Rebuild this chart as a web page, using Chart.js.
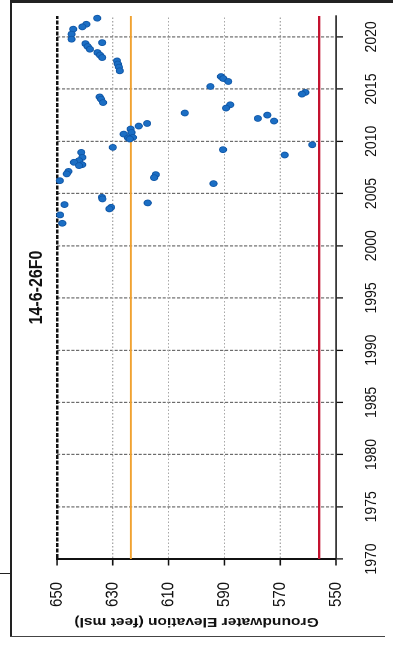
<!DOCTYPE html>
<html>
<head>
<meta charset="utf-8">
<script src="https://cdn.jsdelivr.net/npm/chart.js@4.4.1/dist/chart.umd.min.js"></script>
<style>
  html, body { margin: 0; padding: 0; background: #fff; overflow: hidden; }
  body { width: 393px; height: 645px; position: relative; }
  /* chart is laid out upright, then turned on its side like the scanned page */
  #wrap {
    position: absolute; left: 0; top: 0;
    width: 645px; height: 327px;
    transform-origin: 0 0;
    transform: translate(0, 645px) scale(1.2, 1) rotate(-90deg);
  }
  .rule { position: absolute; background: #222; }
</style>
</head>
<body>
<div id="wrap"><canvas id="chart"></canvas></div>
<div class="rule" style="left:10px;top:0;width:1.6px;height:637px"></div>
<div class="rule" style="left:11px;top:0;width:382px;height:2.5px"></div>
<div class="rule" style="left:10px;top:636px;width:375px;height:1.4px;background:#444"></div>
<div class="rule" style="left:0;top:573px;width:10px;height:1.4px"></div>
<script>
const wellName = '14-6-26F0';
const axisTitle = 'Groundwater Elevation (feet msl)';

const sampleYears = [
  2021.79, 2021.21, 2020.96, 2020.74, 2020.26, 2019.78, 2019.45, 2019.35,
  2019.08, 2018.82, 2018.50, 2018.26, 2018.02, 2017.70, 2017.40, 2017.10,
  2016.75, 2016.20, 2016.01, 2015.73, 2015.25, 2014.68, 2014.52, 2014.25,
  2014.03, 2013.71, 2013.50, 2013.18, 2012.71, 2012.51, 2012.19, 2011.94,
  2011.71, 2011.46, 2011.18, 2010.85, 2010.69, 2010.37, 2010.32, 2010.22,
  2009.67, 2009.42, 2009.20, 2008.94, 2008.69, 2008.46, 2008.15, 2007.99,
  2007.76, 2007.67, 2007.12, 2006.88, 2006.81, 2006.52, 2006.23, 2005.95,
  2004.64, 2004.48, 2004.10, 2003.94, 2003.68, 2003.53, 2002.95, 2002.15
];
const elevations = [
  635.6, 639.5, 640.9, 644.2, 644.8, 644.8, 633.8, 639.8,
  639.0, 638.2, 635.5, 634.6, 633.8, 628.5, 628.2, 627.8,
  627.5, 591.2, 590.4, 588.6, 595.0, 561.0, 562.2, 634.7,
  634.2, 633.5, 587.9, 589.4, 604.2, 574.6, 578.0, 572.2,
  617.7, 620.7, 623.6, 623.3, 626.1, 622.8, 624.5, 623.9,
  558.5, 630.0, 590.5, 641.3, 568.4, 640.9, 642.1, 643.9,
  641.0, 642.1, 645.9, 646.5, 614.6, 615.2, 649.0, 593.9,
  633.9, 633.7, 617.5, 647.3, 630.6, 631.2, 648.9, 648.1
];

const yearRange = [1970, 2022];
const elevRange = [550, 650];
const orangeLevel = 623.5;
const redLevel = 556;

const points = sampleYears.map((x, i) => ({ x, y: elevations[i] }));
const flat = level => yearRange.map(x => ({ x, y: level }));

new Chart(document.getElementById('chart'), {
  type: 'scatter',
  data: {
    datasets: [{
      data: points,
      pointRadius: 3,
      pointBackgroundColor: '#1b6ec4',
      pointBorderColor: '#0f56a6',
      pointBorderWidth: 0.8,
      clip: false,
    }, {
      type: 'line',
      data: flat(orangeLevel),
      borderColor: '#f0a232',
      borderWidth: 1.6,
      pointRadius: 0,
    }, {
      type: 'line',
      data: flat(redLevel),
      borderColor: '#c4122f',
      borderWidth: 2,
      pointRadius: 0,
    }],
  },
  options: {
    responsive: true,
    maintainAspectRatio: false,
    animation: false,
    devicePixelRatio: 2,
    layout: { padding: { left: 6, right: 16, top: 0, bottom: 9 } },
    plugins: {
      legend: { display: false },
      tooltip: { enabled: false },
      title: {
        display: true,
        text: wellName,
        fullSize: false,
        color: '#111',
        font: { family: 'Liberation Sans, Arial, sans-serif', size: 16, weight: 'bold' },
        padding: { top: 21, bottom: 7.3 },
      },
    },
    scales: {
      x: {
        type: 'linear',
        min: yearRange[0],
        max: yearRange[1],
        afterFit: scale => { scale.height = 38; },
        ticks: {
          stepSize: 5,
          includeBounds: false,
          padding: 15,
          color: '#111',
          font: { family: 'Liberation Sans, Arial, sans-serif', size: 14 },
          callback: value => String(value),
        },
        grid: {
          color: ctx => ctx.tick && ctx.tick.value === yearRange[0] ? 'rgba(0,0,0,0)' : '#6c6c6c',
          lineWidth: 1.2,
          tickColor: '#111',
          tickLength: 6,
          tickWidth: 1.3,
        },
        border: { color: '#111', width: 1.3, dash: [2.6, 1.4] },
      },
      y: {
        type: 'linear',
        min: elevRange[0],
        max: elevRange[1],
        afterFit: scale => { scale.width = 80; },
        ticks: {
          stepSize: 20,
          padding: 16.5,
          color: '#111',
          font: { family: 'Liberation Sans, Arial, sans-serif', size: 15 },
        },
        grid: {
          color: ctx => {
            const v = ctx.tick && ctx.tick.value;
            if (v === elevRange[1]) return '#111';
            if (v === elevRange[0]) return 'rgba(0,0,0,0)';
            return '#a8a8a8';
          },
          lineWidth: ctx => ctx.tick && ctx.tick.value === elevRange[1] ? 2.2 : 1,
          tickColor: '#111',
          tickLength: 6.5,
          tickWidth: 1.3,
        },
        border: {
          color: '#111',
          width: 2,
          dash: ctx => ctx.tick && ctx.tick.value === elevRange[1] ? [4, 1.5] : [1.5, 2],
        },
        title: {
          display: true,
          text: axisTitle,
          color: '#111',
          font: { family: 'Liberation Sans, Arial, sans-serif', size: 13, weight: 'bold' },
          padding: { top: 9.7, bottom: 6.7 },
        },
      },
    },
  },
});
</script>
</body>
</html>
